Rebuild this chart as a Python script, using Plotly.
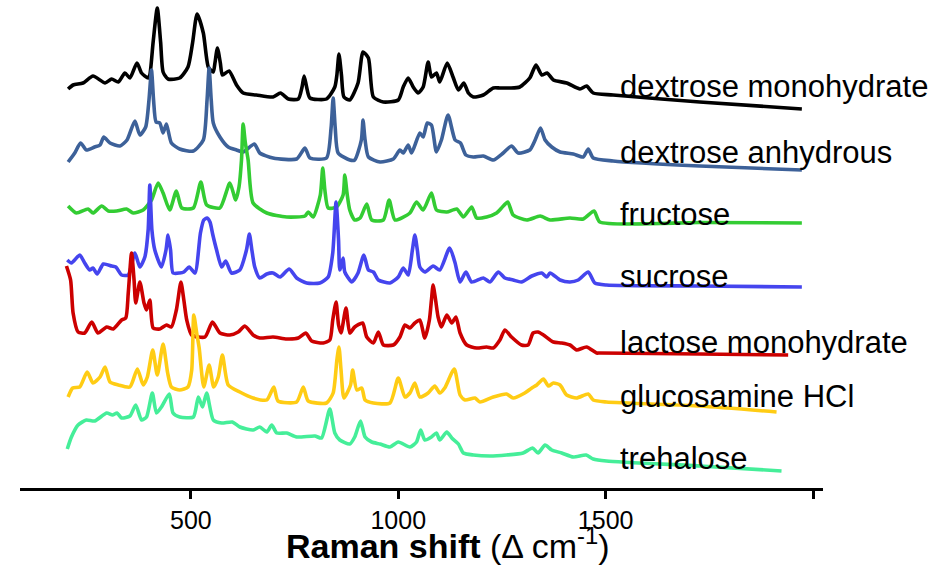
import plotly.graph_objects as go

# ---- data: (Raman shift in cm^-1, relative intensity) ----
dextrose_monohydrate = [(204,21),(216,25),(240,27),(264,34),(293,27),(309,31),(325,28),(341,37),(353,32),(370,47),(381,37),(397,32),(401,35),(409,68),(419,102),(427,68),(433,38),(445,31),(473,32),(493,43),(504,67),(515,96),(530,77),(542,43),(554,38),(558,47),(564,62),(571,47),(576,35),(592,39),(610,25),(626,17),(658,15),(698,13),(716,17),(735,11),(759,11),(768,23),(773,34),(779,23),(787,12),(827,11),(847,23),(852,35),(857,56),(863,35),(869,13),(883,10),(903,27),(915,58),(928,52),(940,13),(964,8),(1000,10),(1012,23),(1024,32),(1036,23),(1048,17),(1060,23),(1072,48),(1080,33),(1092,37),(1100,28),(1118,47),(1132,33),(1145,20),(1158,27),(1169,17),(1181,13),(1205,15),(1229,22),(1245,22),(1269,22),(1293,23),(1317,32),(1332,45),(1346,35),(1359,37),(1374,30),(1406,27),(1438,21),(1454,24),(1470,17),(1518,15),(1727,8),(1973,1)]

dextrose_anhydrous = [(204,8),(220,17),(234,27),(248,20),(268,23),(281,25),(290,33),(305,27),(329,24),(346,30),(365,49),(377,35),(391,43),(399,70),(405,100),(410,70),(416,48),(425,47),(433,37),(441,46),(453,27),(473,21),(506,19),(530,30),(539,70),(544,102),(549,70),(554,47),(570,33),(590,23),(610,20),(626,18),(653,26),(666,17),(698,12),(755,11),(775,22),(787,12),(827,12),(838,42),(843,72),(848,42),(855,17),(883,10),(895,10),(911,30),(915,50),(920,30),(928,13),(956,8),(988,11),(1004,20),(1012,17),(1024,25),(1032,17),(1052,37),(1060,33),(1070,47),(1080,45),(1092,18),(1104,30),(1120,55),(1137,30),(1150,27),(1163,15),(1181,13),(1205,14),(1229,10),(1253,17),(1273,24),(1289,17),(1317,20),(1330,30),(1343,42),(1354,30),(1370,23),(1390,18),(1422,16),(1446,13),(1458,21),(1470,12),(1518,9),(1727,4),(1973,0)]

fructose = [(204,18),(224,11),(252,15),(264,11),(285,18),(301,13),(321,13),(345,15),(361,11),(385,14),(405,24),(421,41),(433,31),(449,14),(465,33),(478,16),(506,16),(524,42),(538,19),(570,16),(594,41),(608,24),(616,37),(622,64),(626,100),(631,82),(638,64),(650,21),(683,11),(731,7),(775,8),(783,12),(795,7),(812,29),(818,56),(823,34),(831,16),(851,17),(867,29),(871,49),(877,29),(883,14),(895,4),(908,6),(924,20),(936,4),(964,4),(978,24),(992,4),(1028,11),(1044,22),(1060,14),(1080,31),(1092,14),(1117,12),(1141,15),(1157,7),(1177,17),(1189,6),(1213,7),(1237,11),(1249,16),(1264,22),(1277,9),(1310,4),(1342,8),(1366,4),(1414,6),(1446,5),(1472,13),(1486,2),(1727,1.5),(1973,1)]

sucrose = [(202,27),(212,24),(232,32),(244,24),(256,17),(264,19),(274,13),(289,23),(309,21),(319,20),(333,12),(349,12),(365,34),(377,20),(389,30),(397,57),(401,102),(406,57),(413,37),(429,20),(440,37),(445,52),(451,37),(457,14),(473,14),(483,15),(496,20),(510,14),(523,54),(531,67),(539,69),(546,65),(553,52),(562,37),(574,20),(584,26),(598,14),(618,17),(634,37),(641,53),(647,37),(654,20),(666,9),(683,13),(698,14),(715,10),(737,18),(755,9),(779,4),(811,4),(831,10),(842,34),(850,85),(856,47),(859,17),(867,29),(871,15),(888,5),(903,14),(917,32),(928,17),(940,15),(952,7),(980,4),(1000,10),(1012,19),(1024,12),(1034,37),(1040,52),(1046,37),(1052,20),(1064,15),(1084,21),(1100,17),(1124,39),(1137,24),(1149,5),(1163,15),(1177,5),(1205,9),(1221,5),(1241,15),(1257,9),(1277,7),(1297,5),(1322,11),(1346,14),(1358,10),(1366,14),(1390,7),(1414,5),(1434,7),(1458,15),(1474,4),(1502,2),(1727,1),(1973,0)]

lactose_monohydrate = [(200,89),(210,75),(216,42),(228,23),(244,22),(261,33),(276,22),(297,28),(313,26),(333,35),(343,37),(349,62),(357,102),(363,75),(367,52),(377,73),(387,52),(393,45),(401,55),(409,27),(425,26),(441,30),(453,28),(465,45),(476,73),(483,55),(490,35),(502,20),(534,18),(552,33),(570,22),(594,20),(614,23),(630,29),(650,20),(666,17),(698,18),(731,16),(759,17),(777,22),(791,14),(819,12),(835,15),(842,35),(850,53),(856,30),(862,22),(874,47),(883,22),(895,28),(914,32),(924,18),(940,12),(952,23),(964,10),(988,10),(1004,18),(1016,30),(1028,27),(1040,32),(1052,35),(1064,17),(1075,35),(1080,55),(1084,70),(1090,55),(1096,38),(1104,28),(1117,40),(1129,32),(1139,38),(1149,22),(1165,10),(1189,7),(1213,8),(1229,7),(1245,15),(1257,25),(1273,18),(1297,10),(1313,10),(1325,22),(1337,23),(1350,20),(1374,13),(1394,12),(1414,10),(1430,5),(1454,8),(1478,2),(1486,2),(1727,1),(1940,0)]

glucosamine_hcl = [(204,15),(215,24),(232,25),(250,40),(264,29),(281,35),(293,45),(305,30),(325,27),(353,25),(371,43),(385,27),(395,35),(408,62),(419,37),(433,68),(444,39),(453,25),(473,22),(493,25),(502,42),(507,97),(514,79),(520,64),(531,25),(544,47),(555,25),(566,35),(576,57),(590,27),(618,20),(650,14),(683,12),(700,25),(710,11),(755,10),(771,25),(783,11),(827,9),(843,19),(852,52),(857,65),(862,42),(869,14),(885,27),(890,42),(900,22),(912,24),(920,12),(940,9),(980,9),(1000,34),(1016,15),(1028,19),(1040,29),(1052,15),(1072,19),(1088,26),(1100,19),(1112,24),(1135,43),(1149,17),(1161,12),(1185,14),(1197,10),(1229,15),(1261,18),(1277,14),(1305,19),(1322,24),(1334,27),(1350,33),(1362,26),(1374,29),(1390,27),(1406,17),(1430,14),(1458,18),(1470,12),(1502,10),(1727,6),(1912,0)]

trehalose = [(202,22),(212,34),(228,46),(248,51),(268,50),(297,58),(311,56),(322,58),(333,53),(353,55),(367,66),(381,51),(393,54),(407,78),(417,58),(429,64),(448,77),(457,58),(473,54),(506,54),(518,74),(528,64),(538,78),(554,51),(574,48),(600,49),(618,44),(650,41),(666,44),(683,39),(695,46),(707,38),(731,38),(755,34),(799,35),(815,33),(835,62),(847,38),(859,31),(883,27),(895,34),(909,50),(920,34),(936,29),(956,27),(980,24),(1000,29),(1028,24),(1044,29),(1054,41),(1064,31),(1080,34),(1092,38),(1100,31),(1117,39),(1129,33),(1145,27),(1157,18),(1181,16),(1221,15),(1261,16),(1301,18),(1324,23),(1337,18),(1354,26),(1370,21),(1394,18),(1422,14),(1453,16),(1470,12),(1502,10),(1727,5),(1924,0)]

names = ["dextrose monohydrate", "dextrose anhydrous", "fructose", "sucrose",
         "lactose monohydrate", "glucosamine HCl", "trehalose"]
spectra = [dextrose_monohydrate, dextrose_anhydrous, fructose, sucrose,
           lactose_monohydrate, glucosamine_hcl, trehalose]
offsets = [378, 318, 264, 201, 133, 76, 17]
colors = ["#000000", "#3d6199", "#33cc33", "#4545ee", "#cc0000", "#ffcc14", "#45ee99"]

tick_vals = [500, 1000, 1500, 2000]
tick_text = ["500", "1000", "1500", ""]

# style / layout
label_nudge = [24, 18, 10, 11, 13, 16, 13]
label_x = 1530
FONT = "Liberation Sans, Arial, Helvetica, sans-serif"

fig = go.Figure()
for name, spec, off, col in zip(names, spectra, offsets, colors):
    xs = [p[0] for p in spec]
    ys = [p[1] + off for p in spec]
    fig.add_trace(go.Scatter(x=xs, y=ys, mode="lines", name=name,
                             line=dict(color=col, width=3.6, shape="spline", smoothing=0.6),
                             hoverinfo="skip", showlegend=False))

for name, off, nd in zip(names, offsets, label_nudge):
    fig.add_annotation(x=label_x, y=off + nd, xref="x", yref="y", text=name,
                       showarrow=False, xanchor="left", yanchor="middle",
                       font=dict(family=FONT, size=31, color="#000000"))

fig.add_annotation(x=0.532, y=-0.114, xref="paper", yref="paper",
                   text="<b>Raman shift</b> (Δ cm<sup>-1</sup>)", showarrow=False,
                   xanchor="center", yanchor="middle",
                   font=dict(family=FONT, size=34, color="#000000"))

fig.update_layout(
    width=941, height=566,
    margin=dict(l=20, r=118, t=0, b=78),
    paper_bgcolor="white", plot_bgcolor="white",
    xaxis=dict(range=[88, 2024], tickvals=tick_vals, ticktext=tick_text,
               ticks="outside", ticklen=8, tickwidth=3, tickcolor="black",
               showline=True, linewidth=3, linecolor="black", showgrid=False,
               zeroline=False, tickfont=dict(family=FONT, size=25, color="black")),
    yaxis=dict(range=[0, 488], visible=False, showgrid=False, zeroline=False),
)

fig.write_html("out.html")
